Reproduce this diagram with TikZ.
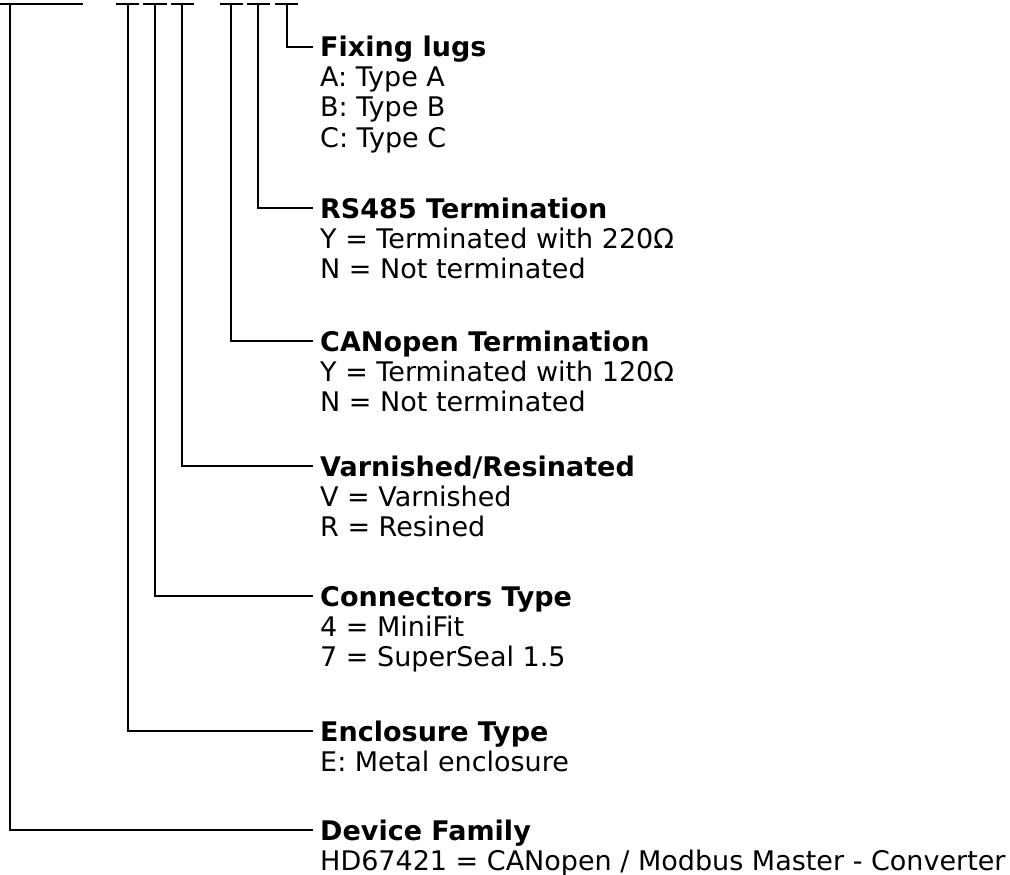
\documentclass[tikz,border=0pt]{standalone}
\usepackage{fontspec}
\setmainfont{DejaVu Sans}
\begin{document}
\begin{tikzpicture}[x=1pt,y=-1pt,
  wire/.style={line width=2pt,line cap=rect},
  ttl/.style={font=\fontsize{27}{30}\selectfont\bfseries,anchor=base west,inner sep=0pt},
  dsc/.style={font=\fontsize{27}{30}\selectfont,anchor=base west,inner sep=0pt}]
\useasboundingbox (0,0) rectangle (1010,875);
% top bars and corner points
\foreach \n/\a/\b/\c/\y in {dev/0/82/10/830, enc/117/138/128/731, con/144/166/155/596,
  var/172/193/182/466, can/221/242/231/341, rs/248/269/258/208, fix/276/297/287/47}{
  \coordinate (\n-l) at (\a,4);
  \coordinate (\n-r) at (\b,4);
  \coordinate (\n-t) at (\c,4);
  \coordinate (\n-e) at (313,\y);
}
% titles and descriptions
\node[ttl] (fix-h) at ([xshift=7pt,yshift=-10pt]fix-e) {Fixing lugs};
\node[dsc] (fix-1) at ([yshift=-30pt]fix-h.base west) {A: Type A};
\node[dsc] (fix-2) at ([yshift=-30pt]fix-1.base west) {B: Type B};
\node[dsc] (fix-3) at ([yshift=-30pt]fix-2.base west) {C: Type C};

\node[ttl] (rs-h) at ([xshift=7pt,yshift=-10pt]rs-e) {RS485 Termination};
\node[dsc] (rs-1) at ([yshift=-30pt]rs-h.base west) {Y = Terminated with 220Ω};
\node[dsc] (rs-2) at ([yshift=-30pt]rs-1.base west) {N = Not terminated};

\node[ttl] (can-h) at ([xshift=7pt,yshift=-10pt]can-e) {CANopen Termination};
\node[dsc] (can-1) at ([yshift=-30pt]can-h.base west) {Y = Terminated with 120Ω};
\node[dsc] (can-2) at ([yshift=-30pt]can-1.base west) {N = Not terminated};

\node[ttl] (var-h) at ([xshift=7pt,yshift=-10pt]var-e) {Varnished/Resinated};
\node[dsc] (var-1) at ([yshift=-30pt]var-h.base west) {V = Varnished};
\node[dsc] (var-2) at ([yshift=-30pt]var-1.base west) {R = Resined};

\node[ttl] (con-h) at ([xshift=7pt,yshift=-10pt]con-e) {Connectors Type};
\node[dsc] (con-1) at ([yshift=-30pt]con-h.base west) {4 = MiniFit};
\node[dsc] (con-2) at ([yshift=-30pt]con-1.base west) {7 = SuperSeal 1.5};

\node[ttl] (enc-h) at ([xshift=7pt,yshift=-10pt]enc-e) {Enclosure Type};
\node[dsc] (enc-1) at ([yshift=-30pt]enc-h.base west) {E: Metal enclosure};

\node[ttl] (dev-h) at ([xshift=7pt,yshift=-10pt]dev-e) {Device Family};
\node[dsc] (dev-1) at ([yshift=-30pt]dev-h.base west) {HD67421 = CANopen / Modbus Master - Converter};

% connectors
\foreach \n in {dev,enc,con,var,can,rs,fix}{
  \draw[wire] (\n-l) -- (\n-r);
  \draw[wire,line cap=butt] (\n-t) |- (\n-e);
}
\end{tikzpicture}
\end{document}
